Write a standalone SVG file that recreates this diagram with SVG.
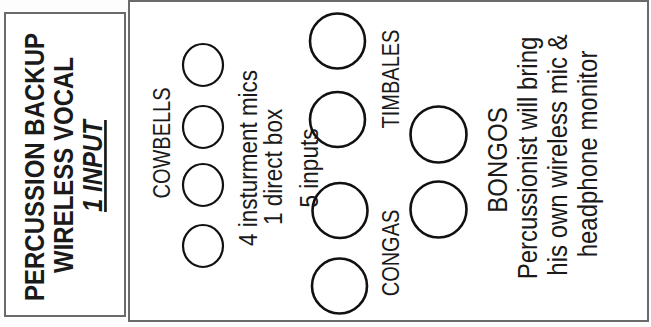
<svg xmlns="http://www.w3.org/2000/svg" width="651" height="327" viewBox="0 0 651 327">
<style>
.box{fill:#fff;stroke:#6a6a6a;stroke-width:2}
.sm{fill:none;stroke:#111;stroke-width:2.2}
.big{fill:none;stroke:#111;stroke-width:2.6}
text{font-family:"Liberation Sans",Arial,sans-serif;fill:#1a1a1a;text-anchor:middle}
.b{font-weight:bold;font-size:24px}
.r24{font-size:24px}
.r22{font-size:22.5px}
.r20{font-size:20px}
</style>
<rect width="651" height="327" fill="#fdfdfd"/>
<g id="vocal-box">
<rect class="box" x="5" y="13" width="120" height="303"/>
<text class="b" transform="translate(44,167) rotate(-90) scale(1,1.12)">PERCUSSION BACKUP</text>
<text class="b" transform="translate(73,165) rotate(-90) scale(1,1.12)">WIRELESS VOCAL</text>
<text class="b" font-style="italic" text-decoration="underline" transform="translate(102,166) rotate(-90) scale(1,1.12)">1 INPUT</text>
</g>
<g id="stage-box">
<rect class="box" x="129" y="1" width="519" height="320"/>
</g>
<g id="cowbells">
<ellipse class="sm" cx="203" cy="65" rx="20" ry="21"/>
<ellipse class="sm" cx="203" cy="127" rx="20" ry="21"/>
<ellipse class="sm" cx="203" cy="185" rx="20" ry="21"/>
<ellipse class="sm" cx="203" cy="246" rx="20" ry="21"/>
<text class="r20" transform="translate(170,143) rotate(-90) scale(1,1.17)">COWBELLS</text>
</g>
<g id="inputs-note">
<text class="r22" transform="translate(257,158) rotate(-90) scale(1,1.12)">4 insturment mics</text>
<text class="r22" transform="translate(282,167) rotate(-90) scale(1,1.12)">1 direct box</text>
<text class="r22" transform="translate(318,168) rotate(-90) scale(1,1.12)">5 inputs</text>
</g>
<g id="timbales">
<circle class="big" cx="337.5" cy="41" r="27.5"/>
<circle class="big" cx="337.5" cy="119.5" r="27.5"/>
<text class="r20" transform="translate(399,79) rotate(-90) scale(1,1.17)">TIMBALES</text>
</g>
<g id="congas">
<circle class="big" cx="340" cy="210.5" r="27.5"/>
<circle class="big" cx="339.5" cy="286" r="27.5"/>
<text class="r20" transform="translate(399,253) rotate(-90) scale(1,1.17)">CONGAS</text>
</g>
<g id="bongos">
<circle class="big" cx="438.5" cy="134.5" r="28"/>
<circle class="big" cx="438.5" cy="209.5" r="28"/>
<text class="r24" transform="translate(507,160) rotate(-90) scale(1,1.15)">BONGOS</text>
</g>
<g id="percussionist-note">
<text class="r24" transform="translate(537,158) rotate(-90) scale(1,1.12)">Percussionist will bring</text>
<text class="r24" transform="translate(567,155) rotate(-90) scale(1,1.12)">his own wireless mic &amp;</text>
<text class="r24" transform="translate(597,154) rotate(-90) scale(1,1.12)">headphone monitor</text>
</g>
</svg>
